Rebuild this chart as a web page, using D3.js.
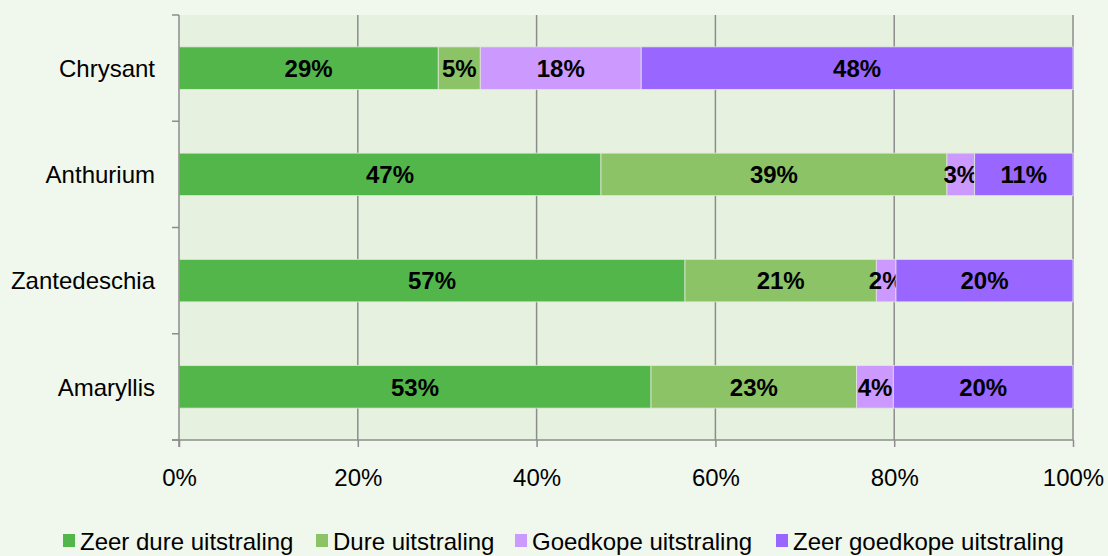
<!DOCTYPE html>
<html>
<head>
<meta charset="utf-8">
<script src="https://cdn.jsdelivr.net/npm/d3@7"></script>
<style>
  body { margin: 0; background: #f0f7ec; }
  svg { display: block; font-family: "Liberation Sans", Arial, sans-serif; }
</style>
</head>
<body>
<div id="chart"></div>
<script>
const categories = ['Chrysant', 'Anthurium', 'Zantedeschia', 'Amaryllis'];
const seriesNames = ['Zeer dure uitstraling', 'Dure uitstraling', 'Goedkope uitstraling', 'Zeer goedkope uitstraling'];
const seriesColors = ['#53b64a', '#8bc366', '#cc99ff', '#9966ff'];
// share per category, in percent
const zeerDure = [29.0, 47.2, 56.6, 52.8];
const dure = [4.7, 38.7, 21.4, 23.0];
const goedkope = [18.0, 3.1, 2.2, 4.1];
const zeerGoedkope = [48.3, 11.0, 19.8, 20.1];
const xTicks = [0, 20, 40, 60, 80, 100];

const width = 1108, height = 556;
const margin = { top: 15, right: 35, bottom: 116, left: 179 };
const fs = 24;

const rows = categories.map((c, i) => ({
  cat: c,
  values: [zeerDure[i], dure[i], goedkope[i], zeerGoedkope[i]]
}));

const svg = d3.select('#chart').append('svg')
  .attr('width', width)
  .attr('height', height);

const x = d3.scaleLinear().domain([0, 100]).range([margin.left, width - margin.right]);
const y = d3.scaleBand().domain(categories).range([margin.top, height - margin.bottom]).paddingInner(0.6).paddingOuter(0.3);
const yOuter = d3.scaleBand().domain(categories).range([margin.top, height - margin.bottom]);

// plot area
svg.append('rect')
  .attr('x', x(0)).attr('y', margin.top)
  .attr('width', x(100) - x(0)).attr('height', height - margin.bottom - margin.top)
  .attr('fill', '#e7f1e0');

// gridlines
svg.append('g').selectAll('line').data(xTicks.slice(1)).join('line')
  .attr('x1', d => x(d)).attr('x2', d => x(d))
  .attr('y1', margin.top).attr('y2', height - margin.bottom)
  .attr('stroke', '#8c8c8c').attr('stroke-width', 1.5);

// bars
const stack = d3.stack().keys([0, 1, 2, 3]).value((d, k) => d.values[k]);
const layers = stack(rows);

const g = svg.append('g');
layers.forEach((layer, k) => {
  const lg = g.append('g');
  lg.selectAll('rect').data(layer).join('rect')
    .attr('x', d => x(d[0]))
    .attr('y', d => y(d.data.cat))
    .attr('width', d => x(d[1]) - x(d[0]))
    .attr('height', y.bandwidth())
    .attr('fill', seriesColors[k])
    .attr('stroke', '#dfe8d8').attr('stroke-width', 0.8);
  lg.selectAll('text').data(layer).join('text')
    .attr('x', d => (x(d[0]) + x(d[1])) / 2)
    .attr('y', d => y(d.data.cat) + y.bandwidth() / 2)
    .attr('dy', '0.36em')
    .attr('text-anchor', 'middle')
    .attr('font-size', fs).attr('font-weight', 'bold').attr('fill', '#000')
    .text(d => Math.round(d[1] - d[0]) + '%');
});

// x axis
const xAxis = svg.append('g')
  .attr('transform', `translate(0,${height - margin.bottom})`)
  .call(d3.axisBottom(x).tickValues(xTicks).tickFormat(d => d + '%').tickSize(7).tickPadding(22));
xAxis.select('.domain').attr('stroke', '#8c8c8c').attr('stroke-width', 1.5).attr('d', `M${x(0) - 7},0H${x(100)}`);
xAxis.selectAll('.tick line').attr('stroke', '#8c8c8c').attr('stroke-width', 1.5);
xAxis.selectAll('text').attr('font-size', fs).attr('fill', '#000').attr('font-family', null);

// y axis
const yTickPos = categories.map(c => yOuter(c)).concat([height - margin.bottom]);
const yAxis = svg.append('g');
yAxis.append('line')
  .attr('x1', x(0)).attr('x2', x(0))
  .attr('y1', margin.top).attr('y2', height - margin.bottom + 7)
  .attr('stroke', '#8c8c8c').attr('stroke-width', 1.5);
yAxis.selectAll('line.tk').data(yTickPos).join('line').attr('class', 'tk')
  .attr('x1', x(0) - 7).attr('x2', x(0))
  .attr('y1', d => d).attr('y2', d => d)
  .attr('stroke', '#8c8c8c').attr('stroke-width', 1.5);
yAxis.selectAll('text').data(categories).join('text')
  .attr('x', 155)
  .attr('y', d => y(d) + y.bandwidth() / 2)
  .attr('dy', '0.36em')
  .attr('text-anchor', 'end')
  .attr('font-size', fs).attr('fill', '#000')
  .text(d => d);

// legend
const legendX = [63, 316, 515, 776];
const legend = svg.append('g').attr('transform', 'translate(0,541)');
const items = legend.selectAll('g').data(seriesNames).join('g')
  .attr('transform', (d, i) => `translate(${legendX[i]},0)`);
items.append('rect')
  .attr('x', 0).attr('y', -7).attr('width', 12).attr('height', 13)
  .attr('fill', (d, i) => seriesColors[i]);
items.append('text')
  .attr('x', 17).attr('dy', '0.36em')
  .attr('font-size', fs).attr('fill', '#000')
  .text(d => d);
</script>
</body>
</html>
